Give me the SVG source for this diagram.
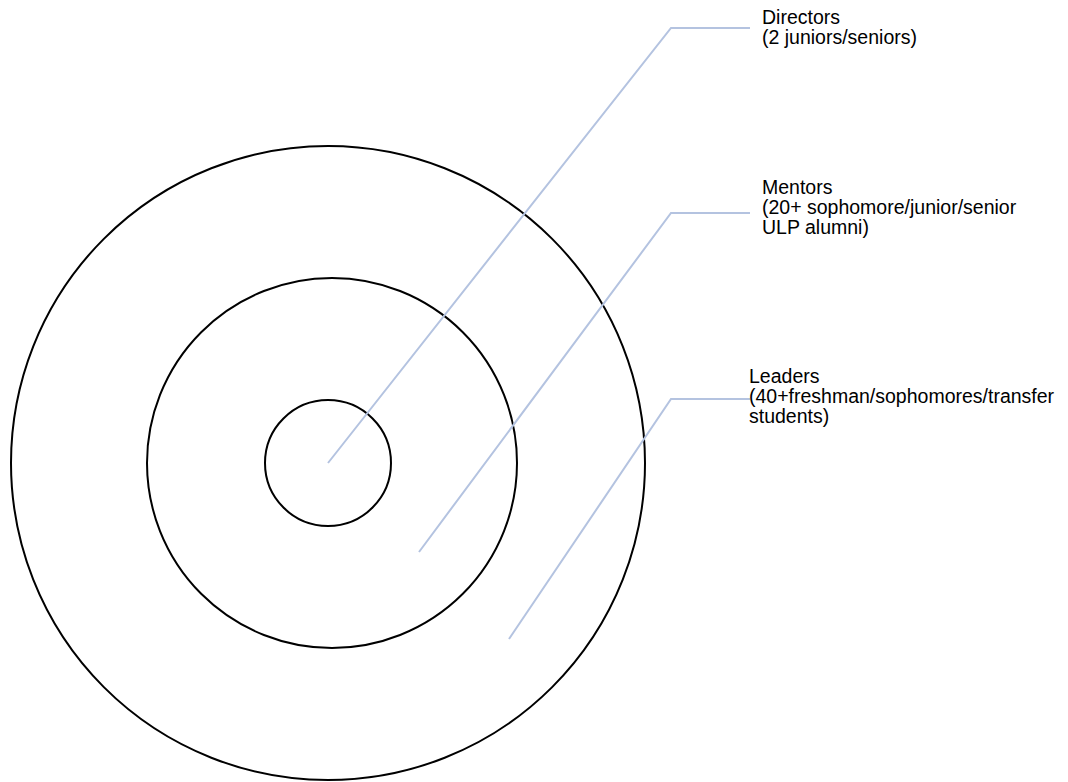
<svg xmlns="http://www.w3.org/2000/svg" width="1068" height="782" viewBox="0 0 1068 782">
  <style>
    .ring { fill: none; stroke: #000; stroke-width: 2; }
    .leader { fill: none; stroke: #b4c3e0; stroke-width: 2; stroke-linejoin: miter; }
    .label { font-family: "Liberation Sans", Arial, sans-serif; font-size: 19.5px; fill: #000; }
  </style>
  <rect width="1068" height="782" fill="#fff"/>

  <!-- concentric tiers -->
  <g id="ring-leaders">
    <circle class="ring" cx="328" cy="463" r="317"/>
  </g>
  <g id="ring-mentors">
    <circle class="ring" cx="332" cy="463" r="185"/>
  </g>
  <g id="ring-directors">
    <circle class="ring" cx="328" cy="463" r="63"/>
  </g>

  <!-- callout lines -->
  <g id="connectors">
    <polyline class="leader" points="328,463 671,28 750,28"/>
    <polyline class="leader" points="419,552 671,213 750,213"/>
    <polyline class="leader" points="509,639 671,399 750,399"/>
  </g>

  <!-- tier labels -->
  <g id="label-directors">
    <text class="label" x="762" y="23.5">Directors</text>
    <text class="label" x="762" y="43.5">(2 juniors/seniors)</text>
  </g>
  <g id="label-mentors">
    <text class="label" x="762" y="194">Mentors</text>
    <text class="label" x="762" y="214">(20+ sophomore/junior/senior</text>
    <text class="label" x="762" y="234">ULP alumni)</text>
  </g>
  <g id="label-leaders">
    <text class="label" x="749" y="383">Leaders</text>
    <text class="label" x="749" y="403">(40+freshman/sophomores/transfer</text>
    <text class="label" x="749" y="423">students)</text>
  </g>
</svg>
